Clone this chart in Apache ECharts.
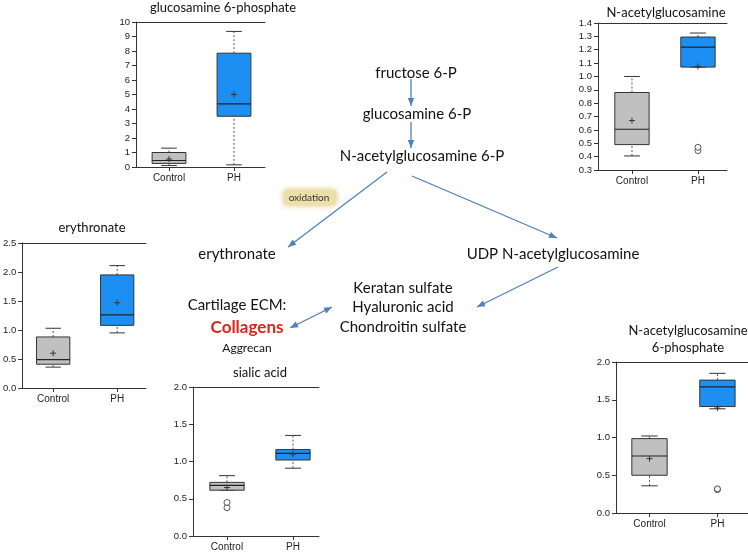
<!DOCTYPE html>
<html><head><meta charset="utf-8">
<script src="https://cdn.jsdelivr.net/npm/echarts@6/dist/echarts.min.js"></script>
<style>html,body{margin:0;padding:0;background:#fff}#c{width:748px;height:555px}</style>
</head><body><div id="c"></div>
<script>
// ---- data ----
const categories = ['Control', 'PH'];
// [min, Q1, median, Q3, max] per group
const g6pBox = [[0.1, 0.25, 0.45, 1.0, 1.3], [0.15, 3.5, 4.35, 7.85, 9.35]];
const g6pMean = [0.55, 5.0];
const g6pOut = [];
const nagBox = [[0.405, 0.49, 0.605, 0.88, 1.0], [1.07, 1.07, 1.22, 1.295, 1.325]];
const nagMean = [0.67, 1.075];
const nagOut = [[2, 0.445], [2, 0.47]];
const eryBox = [[0.36, 0.41, 0.49, 0.88, 1.03], [0.95, 1.08, 1.26, 1.95, 2.11]];
const eryMean = [0.6, 1.47];
const eryOut = [];
const siaBox = [[0.615, 0.615, 0.68, 0.72, 0.81], [0.91, 1.02, 1.11, 1.16, 1.35]];
const siaMean = [0.65, 1.1];
const siaOut = [[1, 0.38], [1, 0.45]];
const nag6pBox = [[0.36, 0.5, 0.755, 0.985, 1.02], [1.38, 1.41, 1.67, 1.76, 1.85]];
const nag6pMean = [0.72, 1.39];
const nag6pOut = [[2, 0.31], [2, 0.32]];

const titles = ['glucosamine 6-phosphate', 'N-acetylglucosamine', 'erythronate', 'sialic acid', 'N-acetylglucosamine\n6-phosphate'];
const yTicks = [[0, 10, 1], [0.3, 1.4, 0.1], [0, 2.5, 0.5], [0, 2.0, 0.5], [0, 2.0, 0.5]];

// ---- layout ----
const panels = [
  {box: g6pBox, mean: g6pMean, out: g6pOut, grid: {left: 136, top: 22, width: 129, height: 145}, xr: [0.492, 2.477], dec: 0, title: [223, 8]},
  {box: nagBox, mean: nagMean, out: nagOut, grid: {left: 598, top: 23, width: 129, height: 147}, xr: [0.485, 2.44], dec: 1, title: [666, 13]},
  {box: eryBox, mean: eryMean, out: eryOut, grid: {left: 22, top: 243, width: 124, height: 145}, xr: [0.516, 2.45], dec: 1, title: [92, 228]},
  {box: siaBox, mean: siaMean, out: siaOut, grid: {left: 193, top: 387, width: 126, height: 149}, xr: [0.485, 2.394], dec: 1, title: [260, 373]},
  {box: nag6pBox, mean: nag6pMean, out: nag6pOut, grid: {left: 616, top: 362, width: 134, height: 151}, xr: [0.507, 2.45], dec: 1, title: [688, 339]}
];

const boxColors = ['#c0c0c0', '#1e8ff2'];
const AX = '#333';

const grids = [], xAxes = [], yAxes = [], series = [], graphics = [];

function renderBox(params, api) {
  const x = api.value(0);
  const mn = api.value(1), q1 = api.value(2), md = api.value(3), q3 = api.value(4), mx = api.value(5), mean = api.value(6);
  const p = (a, b) => api.coord([a, b]);
  const hw = 0.26, ch = 0.12;
  const fill = boxColors[x - 1];
  const tl = p(x - hw, q3), br = p(x + hw, q1);
  const c = p(x, mean);
  const wl = {stroke: '#555', lineWidth: 1, lineDash: [2, 2]};
  const sl = {stroke: '#333', lineWidth: 1};
  const line = (a, b, st) => ({type: 'line', shape: {x1: a[0], y1: a[1], x2: b[0], y2: b[1]}, style: st});
  return {type: 'group', children: [
    line(p(x, mn), p(x, q1), wl),
    line(p(x, q3), p(x, mx), wl),
    line(p(x - ch, mn), p(x + ch, mn), sl),
    line(p(x - ch, mx), p(x + ch, mx), sl),
    {type: 'rect', shape: {x: tl[0], y: tl[1], width: br[0] - tl[0], height: br[1] - tl[1]}, style: {fill: fill, stroke: '#333', lineWidth: 1}},
    line(p(x - hw, md), p(x + hw, md), {stroke: '#222', lineWidth: 1.2}),
    line([c[0] - 3, c[1]], [c[0] + 3, c[1]], sl),
    line([c[0], c[1] - 3], [c[0], c[1] + 3], sl)
  ]};
}

panels.forEach((pn, i) => {
  grids.push(Object.assign({containLabel: false}, pn.grid));
  xAxes.push({
    type: 'value', gridIndex: i, min: pn.xr[0], max: pn.xr[1], position: 'bottom',
    axisLine: {show: true, onZero: false, lineStyle: {color: AX, width: 1}},
    axisTick: {show: true, customValues: [1, 2], length: 4, lineStyle: {color: AX}},
    axisLabel: {show: true, customValues: [1, 2], formatter: v => categories[Math.round(v) - 1] || '', fontFamily: 'Liberation Sans', fontSize: 10, color: '#222', margin: 6},
    splitLine: {show: false}
  });
  xAxes.push({
    type: 'value', gridIndex: i, min: pn.xr[0], max: pn.xr[1], position: 'top',
    axisLine: {show: true, onZero: false, lineStyle: {color: AX, width: 1}},
    axisTick: {show: false}, axisLabel: {show: false}, splitLine: {show: false}
  });
  const yt = yTicks[i];
  yAxes.push({
    type: 'value', gridIndex: i, min: yt[0], max: yt[1], interval: yt[2],
    axisLine: {show: true, onZero: false, lineStyle: {color: AX, width: 1}},
    axisTick: {show: true, length: 4, lineStyle: {color: AX}},
    axisLabel: {fontFamily: 'Liberation Sans', fontSize: 9.5, color: '#222', margin: 6, formatter: v => v.toFixed(pn.dec)},
    splitLine: {show: false}
  });
  const data = pn.box.map((b, k) => [k + 1].concat(b, [pn.mean[k]]));
  series.push({type: 'custom', xAxisIndex: 2 * i, yAxisIndex: i, renderItem: renderBox, data: data, encode: {x: 0, y: [1, 2, 3, 4, 5]}, silent: true, animation: false});
  series.push({type: 'scatter', xAxisIndex: 2 * i, yAxisIndex: i, data: pn.out, symbol: 'circle', symbolSize: 6,
    itemStyle: {color: '#fff', borderColor: '#333', borderWidth: 1}, silent: true, animation: false});
  const tl = titles[i].split('\n');
  tl.forEach((t, j) => {
    graphics.push({type: 'text', x: pn.title[0], y: pn.title[1] + (j - (tl.length - 1) / 2) * 17,
      style: {text: t, align: 'center', verticalAlign: 'middle', font: '13px Lato', fill: '#111'}});
  });
});

// ---- pathway diagram ----
const FONT = '15px Lato';
function txt(t, x, y, font, fill) {
  graphics.push({type: 'text', x: x, y: y, style: {text: t, align: 'center', verticalAlign: 'middle', font: font || FONT, fill: fill || '#111'}});
}
const ARC = '#4f81bd';
function head(x1, y1, x2, y2) {
  const a = Math.atan2(y2 - y1, x2 - x1), L = 8, W = 3.2;
  const bx = x2 - L * Math.cos(a), by = y2 - L * Math.sin(a);
  const nx = -Math.sin(a) * W, ny = Math.cos(a) * W;
  graphics.push({type: 'polygon', shape: {points: [[x2, y2], [bx + nx, by + ny], [bx - nx, by - ny]]}, style: {fill: ARC}});
}
function arrow(x1, y1, x2, y2, both) {
  graphics.push({type: 'line', shape: {x1: x1, y1: y1, x2: x2, y2: y2}, style: {stroke: ARC, lineWidth: 1.3}});
  head(x1, y1, x2, y2);
  if (both) head(x2, y2, x1, y1);
}

txt('fructose 6-P', 416, 73);
txt('glucosamine 6-P', 417, 114);
txt('N-acetylglucosamine 6-P', 422, 156);
txt('erythronate', 237, 254);
txt('UDP N-acetylglucosamine', 553, 254);
txt('Keratan sulfate', 403, 288);
txt('Hyaluronic acid', 403, 307);
txt('Chondroitin sulfate', 403, 327);
txt('Cartilage ECM:', 237, 305);
txt('Collagens', 247, 328, 'bold 17px Lato', '#e2231a');
txt('Aggrecan', 247, 348, '12px Lato');
graphics.push({type: 'rect', shape: {x: 284, y: 190, width: 52, height: 15, r: 2},
  style: {fill: '#ecdfa8', shadowBlur: 6, shadowColor: '#d6bd6a'}});
txt('oxidation', 309, 197.5, '10px Lato', '#333');

arrow(411, 79, 411, 106);
arrow(411, 122, 411, 148);
arrow(387, 172, 288, 247);
arrow(412, 176, 557, 238);
arrow(558, 267, 477, 307);
arrow(290, 328, 332, 307, true);

const chart = echarts.init(document.getElementById('c'), null, {renderer: 'canvas'});
chart.setOption({animation: false, grid: grids, xAxis: xAxes, yAxis: yAxes, series: series, graphic: graphics});
</script></body></html>
